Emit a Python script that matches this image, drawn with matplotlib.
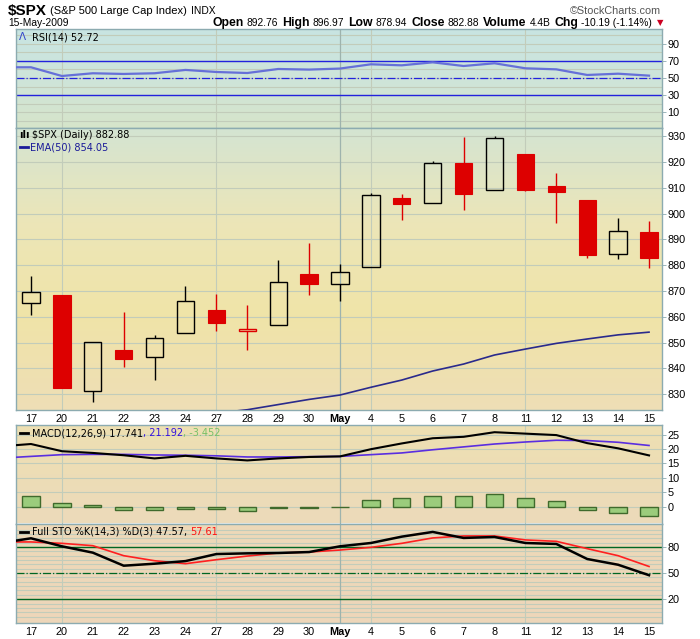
import matplotlib
matplotlib.use('Agg')
import matplotlib.pyplot as plt
import numpy as np
from matplotlib import font_manager
from matplotlib.lines import Line2D

# Daily candles, Apr 17 - May 15 2009
dates = ['17', '20', '21', '22', '23', '24', '27', '28', '29', '30', 'May',
         '4', '5', '6', '7', '8', '11', '12', '13', '14', '15']
opens = [865.18, 868.27, 831.25, 847.26, 844.62, 853.91, 862.82, 854.48, 856.85, 876.59, 872.74,
         879.21, 906.10, 903.95, 919.58, 909.03, 922.99, 910.52, 905.40, 884.24, 892.76]
highs = [875.63, 868.27, 850.09, 861.78, 852.87, 871.80, 868.83, 864.48, 882.06, 888.70, 880.48,
         907.85, 907.70, 920.28, 929.58, 930.17, 922.99, 915.57, 905.40, 898.36, 896.97]
lows = [860.87, 832.39, 826.83, 840.57, 835.58, 853.91, 854.65, 847.12, 856.85, 868.51, 866.10,
        879.21, 897.34, 903.95, 901.36, 909.03, 908.68, 896.46, 882.80, 882.52, 878.94]
closes = [869.60, 832.39, 850.08, 843.55, 851.92, 866.23, 857.51, 855.16, 873.64, 872.81, 877.52,
          907.24, 903.80, 919.53, 907.39, 929.23, 909.24, 908.35, 883.92, 893.07, 882.88]
prev_close = 865.30
ema50 = [815.2, 815.9, 817.2, 818.2, 819.5, 821.3, 822.7, 824.0, 826.0, 828.0, 829.7,
         832.7, 835.5, 839.0, 841.7, 845.2, 847.5, 849.7, 851.4, 853.0, 854.05]

rsi = [62.5, 52.3, 55.5, 54.7, 55.5, 59.4, 57.0, 55.8, 60.5, 59.8, 61.0,
       66.0, 64.8, 68.3, 64.0, 67.2, 61.3, 60.1, 53.5, 55.0, 52.72]

macd = [21.7, 19.2, 18.6, 17.8, 16.7, 17.6, 16.7, 16.0, 16.7, 17.2, 17.4,
        19.9, 21.9, 23.7, 24.2, 25.8, 25.3, 24.8, 22.0, 20.2, 17.741]
signal = [17.4, 18.0, 18.1, 18.1, 17.9, 17.8, 17.6, 17.2, 17.2, 17.3, 17.4,
          18.0, 18.6, 19.7, 20.7, 21.7, 22.4, 23.0, 22.9, 22.3, 21.192]
hist = [3.8, 1.05, 0.35, -1.05, -1.05, -0.7, -0.7, -1.4, -0.45, -0.45, -0.1,
        2.2, 2.8, 3.8, 3.5, 4.3, 3.1, 1.9, -1.05, -2.1, -3.452]

sto_k = [90.0, 80.8, 73.5, 58.5, 60.8, 63.8, 71.9, 72.7, 73.1, 74.2, 80.8,
         84.6, 91.9, 97.3, 90.4, 91.5, 84.6, 83.5, 66.2, 59.6, 47.57]
sto_d = [85.8, 84.2, 81.5, 70.0, 64.2, 60.8, 65.4, 69.6, 73.1, 74.2, 76.5,
         79.6, 84.2, 90.4, 92.7, 92.7, 88.1, 86.5, 78.1, 70.0, 57.61]

W, H = 700, 639
names = {f.name for f in font_manager.fontManager.ttflist}
narrow = 'Liberation Sans Narrow' if 'Liberation Sans Narrow' in names else 'Liberation Sans'
plt.rcParams['font.family'] = ['DejaVu Sans']

fig = plt.figure(figsize=(W / 100, H / 100), dpi=100)
fig.patch.set_facecolor('white')

x = np.arange(len(dates))
xl = (-0.485, 20.42)
red = '#dd0000'
grid_c = (0.76, 0.80, 0.73)
border = (0.55, 0.67, 0.69)
week_lines = [1, 6, 11, 16]
month_line = 10


def panel(top, bottom):
    return fig.add_axes([16 / W, 1 - bottom / H, 646 / W, (bottom - top) / H])


def gradient(ax, stops):
    # stops listed bottom -> top
    cols = np.array(stops, dtype=float) / 255
    n = 200
    pos = np.linspace(0, 1, len(cols))
    t = np.linspace(0, 1, n)
    img = np.stack([np.interp(t, pos, cols[:, i]) for i in range(3)], axis=1)
    ax.imshow(img[:, None, :], extent=(0, 1, 0, 1), transform=ax.transAxes, origin='lower',
              aspect='auto', zorder=0, interpolation='bilinear')


def style(ax, ylim, hgrid, labels):
    ax.set_xlim(*xl)
    ax.set_ylim(*ylim)
    for v in hgrid:
        ax.axhline(v, color=grid_c, lw=0.8, zorder=1)
    for i in week_lines:
        ax.axvline(i, color=grid_c, lw=0.8, zorder=1)
    ax.axvline(month_line, color=(0.62, 0.70, 0.68), lw=0.9, zorder=1)
    ax.yaxis.tick_right()
    ax.set_yticks(labels)
    ax.set_yticklabels([str(v) for v in labels], fontsize=7.8, family='Liberation Sans')
    ax.tick_params(axis='y', length=3, width=0.6, pad=1, color=border)
    ax.set_xticks([])
    for s in ax.spines.values():
        s.set_color(border)
        s.set_linewidth(1.0)


def xlabels(ax):
    ax.set_xticks(x)
    ax.set_xticklabels(dates, fontsize=7.8, family='Liberation Sans')
    for lab in ax.get_xticklabels():
        if lab.get_text() == 'May':
            lab.set_fontweight('bold')
    ax.tick_params(axis='x', length=0, pad=3)


# ---- RSI panel
ax_rsi = panel(29, 128.3)
gradient(ax_rsi, [(214, 228, 202), (206, 229, 218), (200, 228, 226)])
style(ax_rsi, (-8.9, 107.3), range(0, 101, 10), [10, 30, 50, 70, 90])
ax_rsi.axhline(70, color='#2222dd', lw=1.0, zorder=2)
ax_rsi.axhline(30, color='#2222dd', lw=1.0, zorder=2)
ax_rsi.axhline(50, color='#2222dd', lw=0.9, ls='-.', zorder=2)
ax_rsi.plot(np.r_[xl[0], x], np.r_[rsi[0], rsi], color='#6670d8', lw=1.6, zorder=3)

# ---- price panel
ax_p = panel(128.3, 410)
gradient(ax_p, [(238, 222, 182), (240, 228, 168), (236, 230, 184), (212, 228, 210)])
style(ax_p, (823.9, 933.0), range(830, 931, 10), list(range(830, 931, 10)))
ax_p.plot(x, ema50, color='#2a2a8c', lw=1.2, zorder=3)
bw = 0.56
for i in range(len(x)):
    o, h, l, c = opens[i], highs[i], lows[i], closes[i]
    pc = prev_close if i == 0 else closes[i - 1]
    col = red if c < pc else 'black'
    lo_b, hi_b = min(o, c), max(o, c)
    ax_p.vlines(i, hi_b, h, color=col, lw=1.0, zorder=4)
    ax_p.vlines(i, l, lo_b, color=col, lw=1.0, zorder=4)
    if c < o:
        ax_p.bar(i, hi_b - lo_b, bottom=lo_b, width=bw, color=col, edgecolor=col, lw=0.8, zorder=5)
    else:
        ax_p.bar(i, max(hi_b - lo_b, 0.4), bottom=lo_b, width=bw, facecolor='none',
                 edgecolor=col, lw=1.0, zorder=5)
xlabels(ax_p)

# ---- MACD panel
ax_m = panel(425, 523.5)
gradient(ax_m, [(236, 218, 186), (238, 224, 178)])
style(ax_m, (-5.9, 28.3), range(0, 26, 5), [0, 5, 10, 15, 20, 25])
ax_m.bar(x, hist, width=0.56, color='#9bcc7c', edgecolor='#3f6a2c', lw=1.0, zorder=3)
ax_m.plot(np.r_[xl[0], x], np.r_[signal[0] - 0.3, signal], color='#5a2ee0', lw=1.2, zorder=4)
ax_m.plot(np.r_[xl[0], x], np.r_[macd[0] - 0.4, macd], color='black', lw=1.5, zorder=5)

# ---- Full STO panel
ax_s = panel(523.5, 623.3)
gradient(ax_s, [(237, 214, 186), (238, 217, 184)])
style(ax_s, (-7.7, 107.0), range(0, 101, 5), [20, 50, 80])
ax_s.axhline(80, color='#006622', lw=1.0, zorder=2)
ax_s.axhline(20, color='#006622', lw=1.0, zorder=2)
ax_s.axhline(50, color='#006622', lw=0.9, ls='-.', zorder=2)
ax_s.plot(np.r_[xl[0], x], np.r_[sto_d[0], sto_d], color='#ff2020', lw=1.2, zorder=3)
ax_s.plot(np.r_[xl[0], x], np.r_[sto_k[0] - 2.7, sto_k], color='black', lw=1.8, zorder=4)
xlabels(ax_s)

renderer = fig.canvas.get_renderer()


def row(x0, y, pieces, right=False):
    # pieces: (text, gap_after_px, text kwargs)
    objs = [(fig.text(0, 1 - y / H, s, va='center', **kw), g) for s, g, kw in pieces]
    widths = [t.get_window_extent(renderer).width + g for t, g in objs]
    xx = x0 - sum(widths) if right else x0
    for (t, g), w in zip(objs, widths):
        t.set_x(xx / W)
        xx += w


def dash(x0, y, color):
    fig.add_artist(Line2D([x0 / W, (x0 + 8) / W], [1 - y / H, 1 - y / H],
                          color=color, lw=2.0, transform=fig.transFigure))


# header
hb = dict(family=[narrow, 'DejaVu Sans'], fontsize=8.8, fontweight='bold')
hn = dict(family=[narrow, 'DejaVu Sans'], fontsize=7.4)
row(8, 11, [('$SPX', 3, dict(hb, fontsize=11)),
            ('(S&P 500 Large Cap Index)', 4, dict(hn, fontsize=8)),
            ('INDX', 0, dict(hn, fontsize=7.4))])
fig.text(661 / W, 1 - 11 / H, '©StockCharts.com', ha='right', va='center',
         family=[narrow, 'DejaVu Sans'], fontsize=7.8, color='#555555')
fig.text(8 / W, 1 - 23 / H, '15-May-2009', va='center', **hn)
row(655, 23, [('Open', 3, hb), ('892.76', 4, hn), ('High', 3, hb), ('896.97', 4, hn),
              ('Low', 3, hb), ('878.94', 4, hn), ('Close', 3, hb), ('882.88', 4, hn),
              ('Volume', 3, hb), ('4.4B', 4, hn), ('Chg', 3, hb), ('-10.19 (-1.14%)', 3, hn)],
    right=True)
fig.text(657 / W, 1 - 23 / H, '▼', va='center', color='#cc0022', fontsize=6, family='DejaVu Sans')

# panel legends
lf = dict(fontsize=7, family='DejaVu Sans')
fig.text(19 / W, 1 - 37 / H, 'Λ', va='center', color='#3344cc', fontsize=7.5)
fig.text(32 / W, 1 - 37 / H, 'RSI(14) 52.72', va='center', **lf)

fig.text(19 / W, 1 - 135 / H, 'ılı', va='center', color='black', fontsize=7, fontweight='bold')
fig.text(32 / W, 1 - 135 / H, '$SPX (Daily) 882.88', va='center', **lf)
dash(20, 147, '#1a1a99')
fig.text(30 / W, 1 - 147 / H, 'EMA(50) 854.05', va='center', color='#1a1a99', **lf)

dash(20, 433, 'black')
row(32, 433, [('MACD(12,26,9) 17.741', 0, lf), (', 21.192', 0, dict(lf, color='#3311dd')),
              (', -3.452', 0, dict(lf, color='#77c066'))])
dash(20, 532, 'black')
row(32, 532, [('Full STO %K(14,3) %D(3) 47.57,', 3, lf), ('57.61', 0, dict(lf, color='#ff1111'))])

fig.savefig('out.png', dpi=100)
